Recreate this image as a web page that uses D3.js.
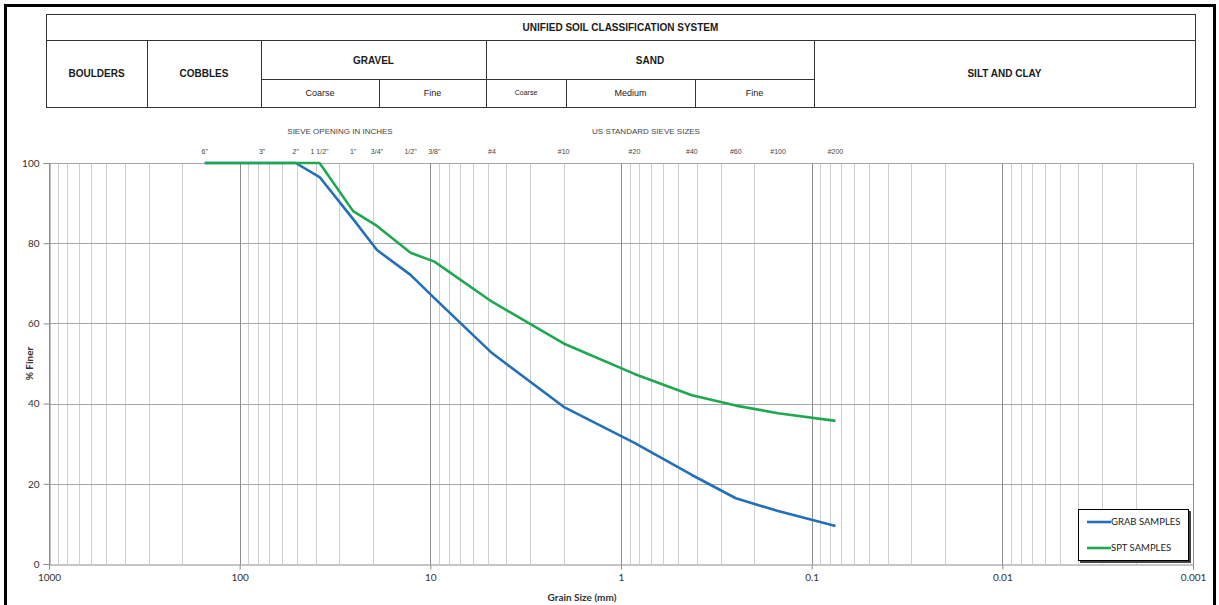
<!DOCTYPE html>
<html lang="en">
<head>
  <meta charset="UTF-8">
  <title>Grain Size Distribution</title>
  <script src="https://d3js.org/d3.v7.min.js"></script>
  <style>
    body { margin: 0; background: #fff; }
    svg { display: block; }
    .tbl text { font-family: "Liberation Sans", Arial, sans-serif; fill: #1a1a1a; }
    .tick-lbl { font-family: Lato, "Open Sans", sans-serif; font-size: 10px; fill: #333; }
  </style>
</head>
<body>
  <svg width="1219" height="605"></svg>

  <script>
    // sieve sizes (mm) and their labels
    const sieveNames = ['6"', '3"', '2"', '1 1/2"', '1"', '3/4"', '1/2"', '3/8"', '#4', '#10', '#20', '#40', '#60', '#100', '#200'];
    const sieveSizes = [152.4, 76.2, 50.8, 38.1, 25.4, 19.05, 12.7, 9.525, 4.75, 2.0, 0.85, 0.425, 0.25, 0.15, 0.075];

    // percent finer for each series
    const grabFiner = [100, 100, 100, 96.5, 86, 78.3, 72.1, 66.3, 52.6, 39.2, 30.2, 22.2, 16.4, 13.2, 9.5];
    const sptFiner  = [100, 100, 100, 100, 88, 84.3, 77.6, 75.4, 65.4, 55, 47.4, 42.1, 39.5, 37.6, 35.7];

    const seriesNames = ["GRAB SAMPLES", "SPT SAMPLES"];
    const seriesColors = ["#2470b8", "#1fa84f"];

    const xTickValues = [1000, 100, 10, 1, 0.1, 0.01, 0.001];
    const yTickValues = [0, 20, 40, 60, 80, 100];

    // header table: name, row span, columns in px
    const tblCols = [46, 147, 261, 379, 486, 566, 695, 814, 1195];

    const svg = d3.select("svg");
    const margin = { top: 163, right: 26, bottom: 41, left: 49 };
    const width = 1219, height = 605;

    const x = d3.scaleLog().domain([1000, 0.001]).range([margin.left, width - margin.right]);
    const y = d3.scaleLinear().domain([0, 100]).range([height - margin.bottom, margin.top]);

    // outer frame
    svg.append("rect")
      .attr("x", 5.5).attr("y", 5.5)
      .attr("width", 1209).attr("height", 610)
      .attr("fill", "none").attr("stroke", "#000").attr("stroke-width", 3);

    // ---- classification table ----
    const tbl = svg.append("g").attr("class", "tbl");
    const rowY = [14, 40, 79, 107];
    const line = (x1, y1, x2, y2) => tbl.append("line")
      .attr("x1", x1).attr("y1", y1).attr("x2", x2).attr("y2", y2)
      .attr("stroke", "#333").attr("stroke-width", 1);

    tbl.append("rect")
      .attr("x", tblCols[0] + 0.5).attr("y", rowY[0] + 0.5)
      .attr("width", tblCols[8] - tblCols[0]).attr("height", rowY[3] - rowY[0])
      .attr("fill", "none").attr("stroke", "#333");
    line(tblCols[0], rowY[1] + 0.5, tblCols[8], rowY[1] + 0.5);
    line(tblCols[2], rowY[2] + 0.5, tblCols[7], rowY[2] + 0.5);
    [1, 2, 4, 7].forEach(i => line(tblCols[i] + 0.5, rowY[1], tblCols[i] + 0.5, rowY[3]));
    [3, 5, 6].forEach(i => line(tblCols[i] + 0.5, rowY[2], tblCols[i] + 0.5, rowY[3]));

    const tText = (cx, cy, s, size, bold) => tbl.append("text")
      .attr("x", cx).attr("y", cy).attr("text-anchor", "middle").attr("dy", "0.35em")
      .attr("font-size", size).attr("font-weight", bold ? "bold" : "normal").text(s);

    const mid = (a, b) => (tblCols[a] + tblCols[b]) / 2;
    tText((tblCols[0] + tblCols[8]) / 2, 27, "UNIFIED SOIL CLASSIFICATION SYSTEM", 10, true);
    tText(mid(0, 1), 73, "BOULDERS", 10, true);
    tText(mid(1, 2), 73, "COBBLES", 10, true);
    tText(mid(2, 4), 60, "GRAVEL", 10, true);
    tText(mid(4, 7), 60, "SAND", 10, true);
    tText(mid(7, 8), 73, "SILT AND CLAY", 10, true);
    tText(mid(2, 3), 93, "Coarse", 9, false);
    tText(mid(3, 4), 93, "Fine", 9, false);
    tText(mid(4, 5), 93, "Coarse", 7, false);
    tText(mid(5, 6), 93, "Medium", 9, false);
    tText(mid(6, 7), 93, "Fine", 9, false);

    // ---- grid ----
    const grid = svg.append("g");
    const isMajor = v => Math.abs(Math.log10(v) - Math.round(Math.log10(v))) < 1e-6;
    const minorTicks = x.ticks().filter(v => !isMajor(v));

    grid.selectAll(".minor").data(minorTicks).join("line")
      .attr("x1", d => Math.round(x(d)) + 0.5).attr("x2", d => Math.round(x(d)) + 0.5)
      .attr("y1", y(100)).attr("y2", y(0))
      .attr("stroke", "#cfcfcf").attr("stroke-width", 1);

    grid.selectAll(".hline").data(yTickValues.filter(v => v > 0)).join("line")
      .attr("x1", x(1000)).attr("x2", x(0.001))
      .attr("y1", d => Math.round(y(d)) + 0.5).attr("y2", d => Math.round(y(d)) + 0.5)
      .attr("stroke", "#a6a6a6").attr("stroke-width", 1);

    grid.selectAll(".major").data(xTickValues).join("line")
      .attr("x1", d => Math.round(x(d)) + 0.5).attr("x2", d => Math.round(x(d)) + 0.5)
      .attr("y1", y(100)).attr("y2", y(0))
      .attr("stroke", "#8c8c8c").attr("stroke-width", 1);

    // axes
    const yAxis = svg.append("g")
      .attr("transform", `translate(${x(1000) + 0.5},0)`)
      .call(d3.axisLeft(y).tickValues(yTickValues).tickSize(6).tickPadding(4));
    const xAxis = svg.append("g")
      .attr("transform", `translate(0,${Math.round(y(0)) + 0.5})`)
      .call(d3.axisBottom(x).tickValues(xTickValues).tickSize(5).tickPadding(4)
        .tickFormat(d => d3.format("~g")(d)));
    [xAxis, yAxis].forEach(a => {
      a.select(".domain").attr("stroke", "#8c8c8c");
      a.selectAll(".tick line").attr("stroke", "#8c8c8c");
      a.selectAll(".tick text").attr("class", "tick-lbl").attr("font-family", null).attr("font-size", null);
    });

    svg.append("text")
      .attr("transform", `translate(33,${(y(0) + y(100)) / 2}) rotate(-90)`)
      .attr("text-anchor", "middle")
      .attr("font-family", "Lato, sans-serif").attr("font-size", 10).attr("font-weight", "bold")
      .attr("fill", "#333").text("% Finer");

    svg.append("text")
      .attr("x", 582).attr("y", 601)
      .attr("text-anchor", "middle")
      .attr("font-family", "Lato, sans-serif").attr("font-size", 10).attr("font-weight", "bold")
      .attr("fill", "#333").text("Grain Size (mm)");

    // sieve labels above plot
    const sieveG = svg.append("g")
      .attr("font-family", "'Liberation Sans', Arial, sans-serif").attr("fill", "#444");
    sieveG.selectAll("text").data(sieveSizes).join("text")
      .attr("x", d => x(d)).attr("y", 154)
      .attr("text-anchor", "middle").attr("font-size", 7)
      .text((d, i) => sieveNames[i]);
    sieveG.append("text").attr("x", 340).attr("y", 134)
      .attr("text-anchor", "middle").attr("font-size", 8).text("SIEVE OPENING IN INCHES");
    sieveG.append("text").attr("x", 646).attr("y", 134)
      .attr("text-anchor", "middle").attr("font-size", 8).text("US STANDARD SIEVE SIZES");

    // curves
    const lineGen = d3.line().x(d => x(d[0])).y(d => y(d[1]));
    [grabFiner, sptFiner].forEach((vals, i) => {
      svg.append("path")
        .datum(sieveSizes.map((s, j) => [s, vals[j]]))
        .attr("fill", "none")
        .attr("stroke", seriesColors[i])
        .attr("stroke-width", 2.6)
        .attr("stroke-linejoin", "round")
        .attr("d", lineGen);
    });

    // legend
    const lg = svg.append("g").attr("transform", "translate(1078,509)");
    lg.append("rect").attr("x", 2).attr("y", 2).attr("width", 111).attr("height", 52).attr("fill", "#444");
    lg.append("rect").attr("x", 0.5).attr("y", 0.5).attr("width", 110).attr("height", 51)
      .attr("fill", "#fff").attr("stroke", "#000");
    seriesNames.forEach((n, i) => {
      const yy = 13 + i * 26;
      lg.append("line").attr("x1", 9).attr("x2", 33).attr("y1", yy).attr("y2", yy)
        .attr("stroke", seriesColors[i]).attr("stroke-width", 2.6);
      lg.append("text").attr("x", 33).attr("y", yy).attr("dy", "0.35em")
        .attr("font-family", "Lato, sans-serif").attr("font-size", 9.5).attr("fill", "#222")
        .text(n);
    });
  </script>
</body>
</html>
